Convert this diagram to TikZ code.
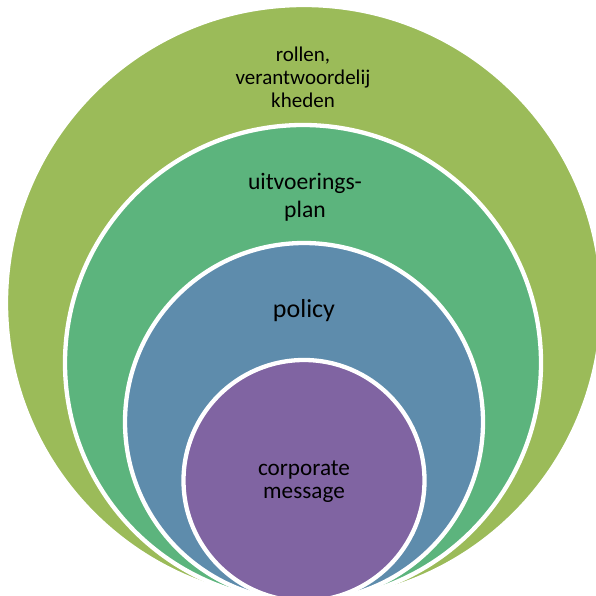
\documentclass[tikz,border=0pt]{standalone}
\usepackage{fontspec}
\setmainfont{Carlito}
\usepackage{xcolor}
\usetikzlibrary{positioning}

\definecolor{ringOlive}{HTML}{9BBB59}
\definecolor{ringGreen}{HTML}{5CB47D}
\definecolor{ringBlue}{HTML}{5E8CAC}
\definecolor{ringPurple}{HTML}{8064A2}

\tikzset{
  ring/.style={circle, draw=white, line width=4.3pt, inner sep=0pt},
  ringtext/.style={align=center, text=black}
}

\begin{document}
\begin{tikzpicture}[x=1pt,y=1pt]

\useasboundingbox (0,0) rectangle (596,595);
\clip (0,0) rectangle (596,595);

% nested circles, all touching at the bottom
\node [ring, fill=ringOlive, minimum size=596] (roles) at (304,292) {};
\node [ring, fill=ringGreen, minimum size=476] (plan) at (303,232) {};
\node [ring, fill=ringBlue, minimum size=358] (policy) at (304,173) {};
\node [ring, fill=ringPurple, minimum size=241] (corp) at (304,114.5) {};

% labels
\node [ringtext, font=\fontsize{21}{23}\selectfont] (rolesText) at (303,518) {rollen,\\ verantwoordelij\\ kheden};
\node [ringtext, font=\fontsize{23.6}{27.7}\selectfont] (planText) at (305,398) {uitvoerings-\\ plan};
\node [ringtext, font=\fontsize{26}{30}\selectfont] (policyText) at (304,284) {policy};
\node [ringtext, font=\fontsize{23.2}{23.3}\selectfont] (corpText) at (304,113) {corporate\\ message};

\end{tikzpicture}
\end{document}
